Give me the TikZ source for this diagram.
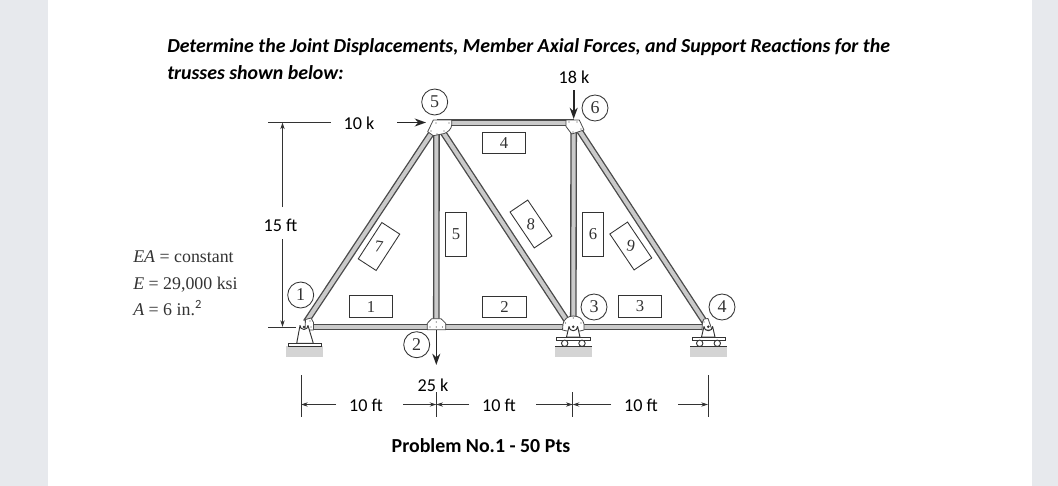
\documentclass[tikz,border=0pt]{standalone}
\usepackage{fontspec}
\setmainfont{Carlito}
\newfontfamily\serifnum{Liberation Serif}
\usetikzlibrary{arrows.meta,calc}
\definecolor{pagegray}{HTML}{E7E9ED}
\definecolor{membedge}{HTML}{4A4A4A}
\definecolor{membfill}{HTML}{CACACA}
\definecolor{ground}{HTML}{D4D4D4}
\definecolor{labelink}{HTML}{333333}
\tikzset{
  x=0.75pt,y=-0.75pt,
  memb/.style={draw=membedge,line width=1.0pt,double=membfill,double distance=3.0pt},
  gusset/.style={draw=membedge,fill=white,line width=0.6pt,line join=round},
  fixity/.style={draw=labelink,fill=white,line width=0.7pt,line join=round},
  plate/.style={draw=labelink,fill=white,line width=0.7pt},
  groundblock/.style={fill=ground,draw=none},
  mlabel/.style={draw=labelink,line width=0.65pt,fill=white,minimum width=32.5pt,minimum height=16pt,inner sep=0pt,font=\serifnum\fontsize{12.5}{14}\selectfont,text=labelink},
  vlabel/.style={mlabel,minimum width=16pt,minimum height=32.5pt},
  jlabel/.style={circle,draw=labelink,line width=0.65pt,fill=white,minimum size=19.5pt,inner sep=0pt,font=\serifnum\fontsize{13.5}{15}\selectfont,text=labelink},
  dimtext/.style={font=\fontsize{13.6}{16}\selectfont,text=black,inner sep=0pt},
  dimline/.style={draw=labelink,line width=0.6pt},
  dimarrow/.style={dimline,-{Stealth[length=5pt,width=3.2pt]}},
  load/.style={draw=black!85,line width=1.2pt,-{Stealth[length=8.5pt,width=6pt]}},
  titletext/.style={font=\fontsize{14.9}{18}\selectfont\bfseries\itshape,text=black,inner sep=0pt,anchor=base west},
  proptext/.style={font=\serifnum\fontsize{13.4}{16}\selectfont,text=labelink,inner sep=0pt,anchor=base west},
  boltdot/.style={fill=membedge,draw=none}
}
\newcommand{\bolts}[1]{\foreach \p in {#1}{\fill[boltdot] \p circle[radius=0.6];}}
\begin{document}
\begin{tikzpicture}
\useasboundingbox (0,0) rectangle (1058,486);
\fill[pagegray] (0,0) rectangle (1058,486);
\fill[white] (48,0) rectangle (1032,486);

% title
\node[titletext] (title1) at (167,52) {Determine the Joint Displacements, Member Axial Forces, and Support Reactions for the};
\node[titletext] (title2) at (167,79) {trusses shown below:};
\node[font=\fontsize{14.9}{18}\selectfont\bfseries,inner sep=0pt] (problem) at (481,446) {Problem No.1 - 50 Pts};

% properties
\node[proptext] (prop1) at (133,262) {\textit{EA} = constant};
\node[proptext] (prop2) at (133,289) {\textit{E} = 29,000 ksi};
\node[proptext] (prop3) at (133,315) {\textit{A} = 6 in.$^{\mathrm{2}}$};

% joints
\coordinate (J1) at (308,327);
\coordinate (J1d) at (306,322);
\coordinate (J2) at (436.3,327);
\coordinate (J3) at (573.3,327);
\coordinate (J4) at (708,327);
\coordinate (J5) at (436.5,122.7);
\coordinate (J6) at (573.7,122.7);
\coordinate (J5d) at (437.5,124);
\coordinate (J3d) at (571,327);

% ground and supports (behind the truss)
\fill[groundblock] (286,346) rectangle (323,357);
\fill[groundblock] (555,346) rectangle (592,357);
\fill[groundblock] (690,346) rectangle (727,357);

% members
\draw[memb] (J1) -- (J4);
\draw[memb] (J5) -- (J6);
\draw[memb] (J2) -- (J5);
\draw[memb] (J3) -- (J6);
\draw[memb] (J1d) -- (J5d);
\draw[memb] (J5d) -- (J3d);
\draw[memb] ($(J6)+(0.5,0)$) -- (J4);

% gussets
\draw[gusset] (433.3,120) -- (451.7,120) -- (451.7,125) .. controls (451.5,129) and (448,132) .. (444.3,133.5) -- (433.3,135.7) -- (427.7,131.7) -- cycle;
\bolts{(436,123),(449,123),(431,131),(437,134),(444,131)}
\draw[gusset] (566,120) -- (579.3,120) -- (584,130) -- (571.7,134) -- (566,126.5) -- cycle;
\bolts{(569,122),(577,122),(581,129),(573,132)}
\draw[gusset] (427.3,329.8) -- (427.3,323.3) -- (431.7,318.7) -- (441,318.7) -- (445.7,323.3) -- (445.7,329.8) -- cycle;
\bolts{(436.3,322),(430,327),(442.5,327),(436.3,327)}
\draw[gusset] (305.5,319.5) -- (311,318) -- (313.5,322.5) -- (313.5,330) -- (305,330) -- cycle;
\bolts{(310,321),(311,327)}
\draw[gusset] (562.5,330) -- (563,324) .. controls (564,319) and (568,316) .. (573.3,316) .. controls (579,316) and (583,319) .. (584,324) -- (584,330) -- (580,331) -- (567,331) -- cycle;
\bolts{(573.3,318),(565.5,323),(581,323)}
\draw[gusset] (702,330) -- (702.5,322) -- (704,319) -- (708,318.5) -- (712,330) -- cycle;
\bolts{(704,322)}

% pin bodies
\draw[fixity] (296.7,343.3) -- (300,325.5) arc[start angle=180,end angle=0,radius=4] -- (313.3,343.3) -- cycle;
\fill[labelink] (304,327) circle[radius=1.4];
\draw[plate] (288,343.4) rectangle (321,346.6);
\draw[fixity] (566.5,337) -- (569,326.5) arc[start angle=180,end angle=0,radius=4.3] -- (580,337) -- cycle;
\fill[labelink] (573.3,326.7) circle[radius=1.4];
\draw[plate] (556.7,337) rectangle (590,340.7);
\draw[plate] (564.7,343.3) circle[radius=3.2];
\draw[plate] (582,343.3) circle[radius=3.2];
\draw[dimline] (555,346.3) -- (592,346.3);
\draw[fixity] (701.5,337) -- (704,326.5) arc[start angle=180,end angle=0,radius=4.3] -- (715,337) -- cycle;
\fill[labelink] (708.3,326.7) circle[radius=1.4];
\draw[plate] (692,337) rectangle (725.3,340.7);
\draw[plate] (699.7,343.3) circle[radius=3.2];
\draw[plate] (717.3,343.3) circle[radius=3.2];
\draw[dimline] (690,346.3) -- (727,346.3);

% member labels
\node[mlabel] (m1) at (371,306.5) {1};
\node[mlabel] (m2) at (504.5,307) {2};
\node[mlabel] (m3) at (640,306.5) {3};
\node[mlabel] (m4) at (504,143) {4};
\node[vlabel] (m5) at (456,234.5) {5};
\node[vlabel] (m6) at (593,234.5) {6};
\node[mlabel,rotate=57] (m7) at (379,246.5) {\rotatebox{-65}{7}};
\node[mlabel,rotate=-56] (m8) at (531,224) {\rotatebox{52}{8}};
\node[mlabel,rotate=-56] (m9) at (630.8,246) {\rotatebox{46}{9}};

% joint labels
\node[jlabel] (n1) at (300.7,295) {1};
\node[jlabel] (n2) at (416.7,344.7) {2};
\node[jlabel] (n3) at (594,307) {3};
\node[jlabel] (n4) at (722,307) {4};
\node[jlabel] (n5) at (434.7,102) {5};
\node[jlabel] (n6) at (595,108) {6};

% loads
\node[dimtext] (l10) at (359,123) {10 k};
\node[dimtext] (l18) at (574,77) {18 k};
\node[dimtext] (l25) at (433,385) {25 k};
\coordinate (a10s) at (397,122.5);
\coordinate (a10e) at (426,122.5);
\coordinate (a18s) at (573.7,90);
\coordinate (a18e) at (573.7,119);
\coordinate (a25s) at (436.3,330);
\coordinate (a25e) at (436.3,365);
\draw[load] (a10s) -- (a10e);
\draw[load] (a18s) -- (a18e);
\draw[load] (a25s) -- (a25e);

% height dimension
\node[dimtext] (d15) at (280.5,225) {15 ft};
\coordinate (htop) at (282.5,122.5);
\coordinate (hbot) at (282.5,327);
\coordinate (hu) at (282.5,207);
\coordinate (hd) at (282.5,239);
\draw[dimline] (268,122.5) -- (331,122.5);
\draw[dimline] (268,327) -- (296,327);
\draw[dimarrow] (hu) -- (htop);
\draw[dimarrow] (hd) -- (hbot);

% span dimension
\coordinate (t1) at (301,404.5);
\coordinate (t2) at (436.3,404.5);
\coordinate (t3) at (572.7,404.5);
\coordinate (t4) at (708,404.5);
\draw[dimline] (301,375) -- (301,417);
\draw[dimline] (436.3,392) -- (436.3,417);
\draw[dimline] (572.7,392) -- (572.7,417);
\draw[dimline] (708,375) -- (708,417);
\node[dimtext] (s1) at (366,405) {10 ft};
\node[dimtext] (s2) at (499,405) {10 ft};
\node[dimtext] (s3) at (641,405) {10 ft};
\draw[dimarrow] (336,404.5) -- (t1);
\draw[dimarrow] (403,404.5) -- (t2);
\draw[dimarrow] (469,404.5) -- (t2);
\draw[dimarrow] (536,404.5) -- (t3);
\draw[dimarrow] (611,404.5) -- (t3);
\draw[dimarrow] (678,404.5) -- (t4);
\end{tikzpicture}
\end{document}
